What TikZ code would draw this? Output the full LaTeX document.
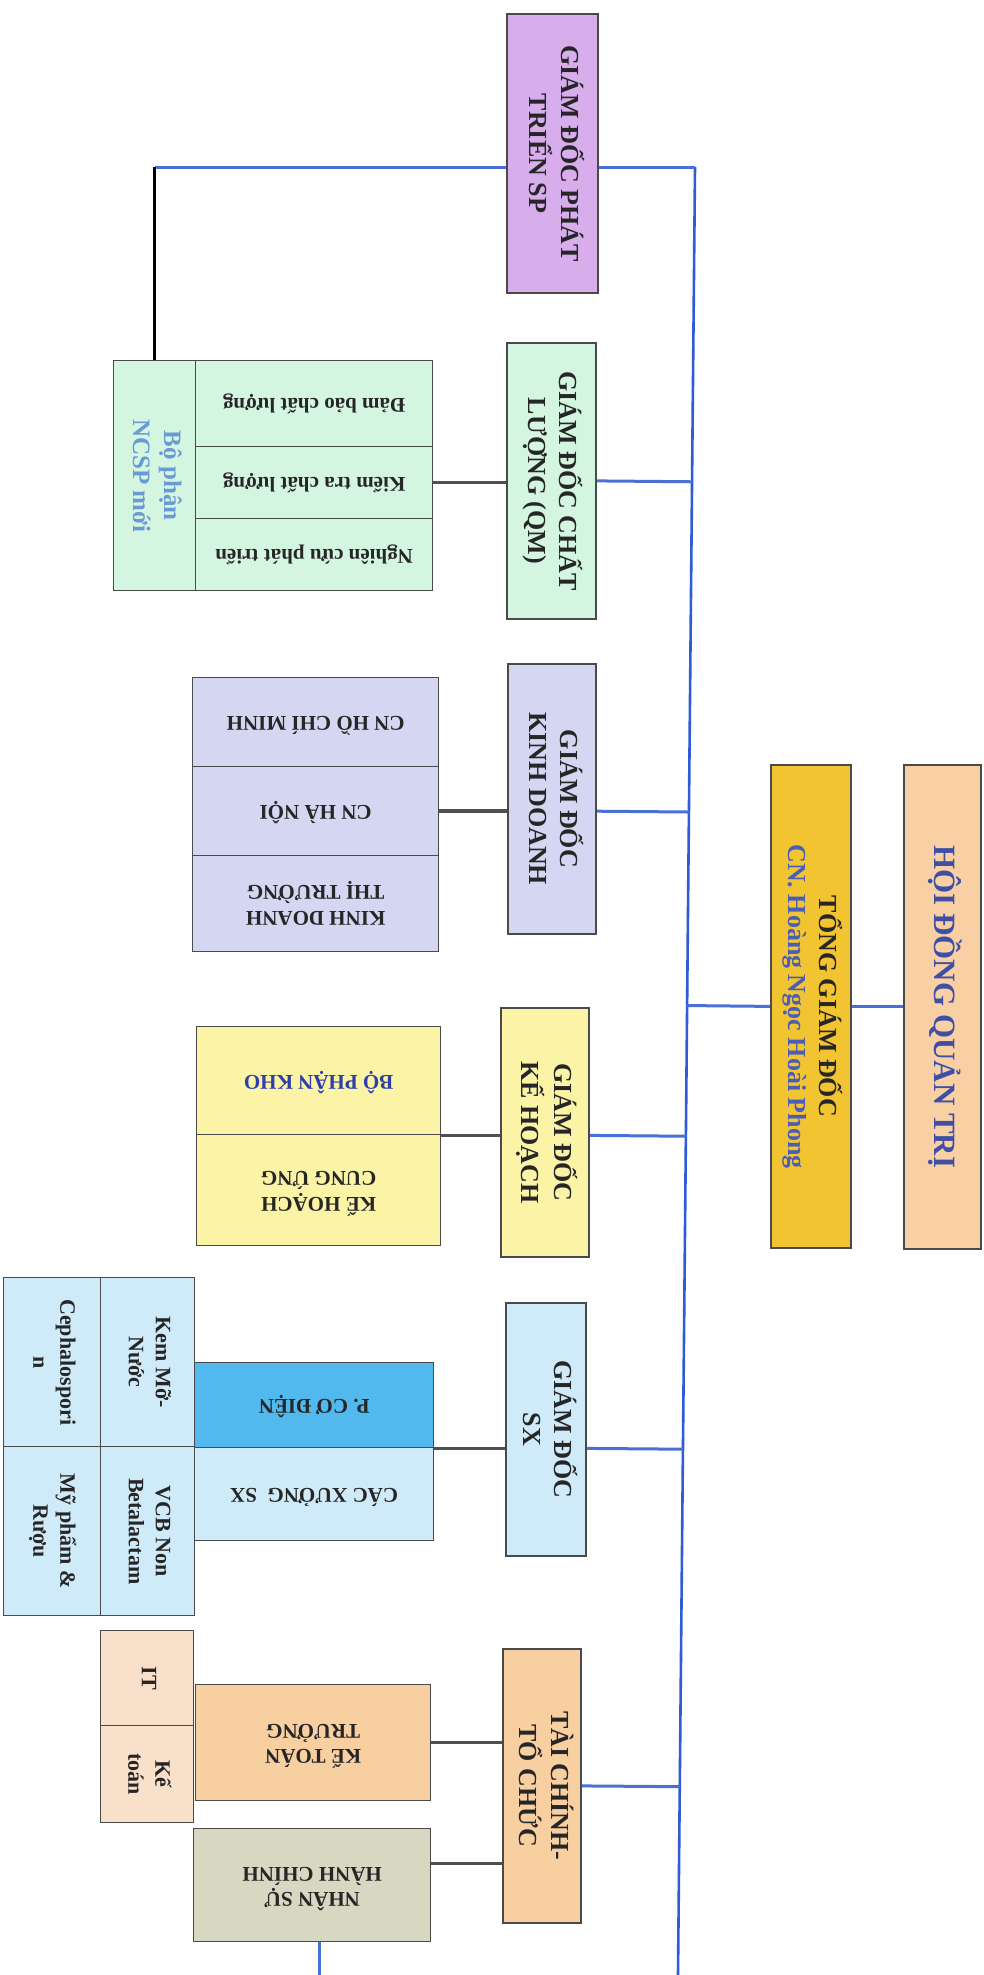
\documentclass[tikz,border=0pt]{standalone}
\usepackage{fontspec}
\setmainfont{Liberation Serif}
\usepackage{graphicx}
\usetikzlibrary{calc}
\pgfdeclarelayer{background}
\pgfsetlayers{background,main}

\definecolor{bordc}{HTML}{4A4A4A}
\definecolor{bluel}{HTML}{4A6FD6}
\definecolor{bluev}{HTML}{2F5BD6}
\definecolor{darkl}{HTML}{505050}
\definecolor{ptspc}{HTML}{D7AEEB}
\definecolor{qmcol}{HTML}{D4F5E0}
\definecolor{kdcol}{HTML}{D5D7F2}
\definecolor{khcol}{HTML}{FBF4A6}
\definecolor{sxcol}{HTML}{CFEBF9}
\definecolor{codcol}{HTML}{52B9EE}
\definecolor{tccol}{HTML}{F8CFA0}
\definecolor{itcol}{HTML}{F9E0CA}
\definecolor{nscol}{HTML}{D8D8C2}
\definecolor{tgdcol}{HTML}{F3C431}
\definecolor{hdqtcol}{HTML}{F8D0A4}
\definecolor{txtc}{HTML}{262626}
\definecolor{hdqtt}{HTML}{3F4FA6}
\definecolor{cnblue}{HTML}{4B5DB5}
\definecolor{ncspt}{HTML}{6A9AD6}
\definecolor{khot}{HTML}{2E3FA8}

\newcommand\vtext[1]{\rotatebox{-90}{\begin{tabular}{@{}c@{}}#1\end{tabular}}}
\newcommand\utext[1]{\rotatebox{180}{\begin{tabular}{@{}c@{}}#1\end{tabular}}}
\newcommand\bx[7]{\node[#6, anchor=north west, minimum width={(#4)-(#2)}, minimum height={(#5)-(#3)}] (#1) at (#2,#3) {#7};}

\tikzset{
  box/.style={draw=bordc, line width=1.4pt, inner sep=0pt, text=txtc, font=\bfseries\fontsize{21}{25}\selectfont},
  dir/.style={box, line width=1.8pt, font=\bfseries\fontsize{26}{31}\selectfont},
  side/.style={box, font=\bfseries\fontsize{22}{27}\selectfont},
  bline/.style={draw=bluel, line width=3pt},
  mline/.style={draw=bluev, line width=2.6pt},
  dline/.style={draw=darkl, line width=3.5pt},
  kline/.style={draw=black, line width=2.6pt}
}

\begin{document}
\begin{tikzpicture}[x=1pt,y=-1pt]
\useasboundingbox (0,0) rectangle (984,1975);

\bx{ptsp}{506}{13}{597}{292}{dir,fill=ptspc}{\vtext{GIÁM ĐỐC PHÁT\\TRIỂN SP}}
\bx{qm}{506}{342}{595}{618}{dir,fill=qmcol}{\vtext{GIÁM ĐỐC CHẤT\\LƯỢNG (QM)}}
\bx{ncsp}{113}{360}{195}{590}{side,fill=qmcol,text=ncspt,font=\bfseries\fontsize{25}{31}\selectfont}{\vtext{Bộ phận\\NCSP mới}}
\bx{qma}{195}{360}{432}{446}{box,fill=qmcol}{\utext{Đảm bảo chất lượng}}
\bx{qmb}{195}{446}{432}{518}{box,fill=qmcol}{\utext{Kiểm tra chất lượng}}
\bx{qmn}{195}{518}{432}{590}{box,fill=qmcol}{\utext{Nghiên cứu phát triển}}

\bx{kd}{507}{663}{595}{933}{dir,fill=kdcol}{\vtext{GIÁM ĐỐC\\KINH DOANH}}
\bx{kda}{192}{677}{438}{766}{box,fill=kdcol}{\utext{CN HỒ CHÍ MINH}}
\bx{kdb}{192}{766}{438}{855}{box,fill=kdcol}{\utext{CN HÀ NỘI}}
\bx{kdn}{192}{855}{438}{951}{box,fill=kdcol}{\utext{KINH DOANH\\THỊ TRƯỜNG}}

\bx{tgd}{770}{764}{850}{1247}{dir,fill=tgdcol}{\vtext{TỔNG GIÁM ĐỐC\\{\color{cnblue}CN. Hoàng Ngọc Hoài Phong}}}
\bx{hdqt}{903}{764}{980}{1248}{dir,fill=hdqtcol,text=hdqtt,font=\bfseries\fontsize{31}{36}\selectfont}{\vtext{HỘI ĐỒNG QUẢN TRỊ}}

\bx{kh}{500}{1007}{588}{1256}{dir,fill=khcol}{\vtext{GIÁM ĐỐC\\KẾ HOẠCH}}
\bx{kha}{196}{1026}{440}{1134}{box,fill=khcol,text=khot}{\utext{BỘ PHẬN KHO}}
\bx{khb}{196}{1134}{440}{1245}{box,fill=khcol}{\utext{KẾ HOẠCH\\CUNG ỨNG}}

\bx{sx}{505}{1302}{585}{1555}{dir,fill=sxcol}{\vtext{GIÁM ĐỐC\\SX}}
\bx{sxa}{194}{1362}{433}{1447}{box,fill=codcol}{\utext{P. CƠ ĐIỆN}}
\bx{sxb}{194}{1447}{433}{1540}{box,fill=sxcol}{\utext{CÁC XƯỞNG\ \ SX}}
\bx{sxk}{100}{1277}{194}{1446}{side,fill=sxcol}{\vtext{Kem Mỡ-\\Nước}}
\bx{sxv}{100}{1446}{194}{1615}{side,fill=sxcol}{\vtext{VCB Non\\Betalactam}}
\bx{sxc}{3}{1277}{100}{1446}{side,fill=sxcol}{\vtext{Cephalospori\\n}}
\bx{sxm}{3}{1446}{100}{1615}{side,fill=sxcol}{\vtext{Mỹ phẩm \&\\Rượu}}

\bx{tc}{502}{1648}{580}{1922}{dir,fill=tccol}{\vtext{TÀI CHÍNH-\\TỔ CHỨC}}
\bx{it}{100}{1630}{193}{1725}{side,fill=itcol}{\vtext{IT}}
\bx{kt}{100}{1725}{193}{1822}{side,fill=itcol}{\vtext{Kế\\toán}}
\bx{ktt}{195}{1684}{430}{1800}{box,fill=tccol}{\utext{KẾ TOÁN\\TRƯỞNG}}
\bx{ns}{193}{1828}{430}{1941}{box,fill=nscol}{\utext{NHÂN SỰ\\HÀNH CHÍNH}}

\coordinate (mtop) at (695,167);
\coordinate (mbot) at (678,1975);

\begin{pgfonlayer}{background}
\fill[white] (0,0) rectangle (984,1975);
\draw[mline] (mtop) -- (mbot);
\draw[bline] (ncsp.north |- mtop) -- (mtop);
\draw[kline] (ncsp.north) -- (ncsp.north |- mtop);
% QM
\draw[bline] (qm.east) -- ($(mtop)!(qm.east)!(mbot)$);
\draw[dline] (qmb.east) -- (qmb.east -| qm.west);
% KD
\draw[bline] (kdb.east -| kd.east) -- ($(mtop)!(kdb.east -| kd.east)!(mbot)$);
\draw[dline] (kdb.east) -- (kdb.east -| kd.west);
% TGD
\draw[bline] (tgd.west) -- ($(mtop)!(tgd.west)!(mbot)$);
\draw[bline] (tgd.east) -- (tgd.east -| hdqt.west);
% KH
\draw[bline] (kha.south east -| kh.east) -- ($(mtop)!(kha.south east -| kh.east)!(mbot)$);
\draw[dline] (kha.south east) -- (kha.south east -| kh.west);
% SX
\draw[bline] (sxa.south east -| sx.east) -- ($(mtop)!(sxa.south east -| sx.east)!(mbot)$);
\draw[dline] (sxa.south east) -- (sxa.south east -| sx.west);
% TC
\draw[bline] (tc.east) -- ($(mtop)!(tc.east)!(mbot)$);
\draw[dline] (ktt.east) -- (ktt.east -| tc.west);
\coordinate (nsc) at ($(ns.north east)!0.31!(ns.south east)$);
\draw[dline] (nsc) -- (nsc -| tc.west);
\coordinate (nsb) at ($(ns.south west)!0.53!(ns.south east)$);
\draw[bline] (nsb) -- (nsb |- mbot);
\end{pgfonlayer}
\end{tikzpicture}
\end{document}
